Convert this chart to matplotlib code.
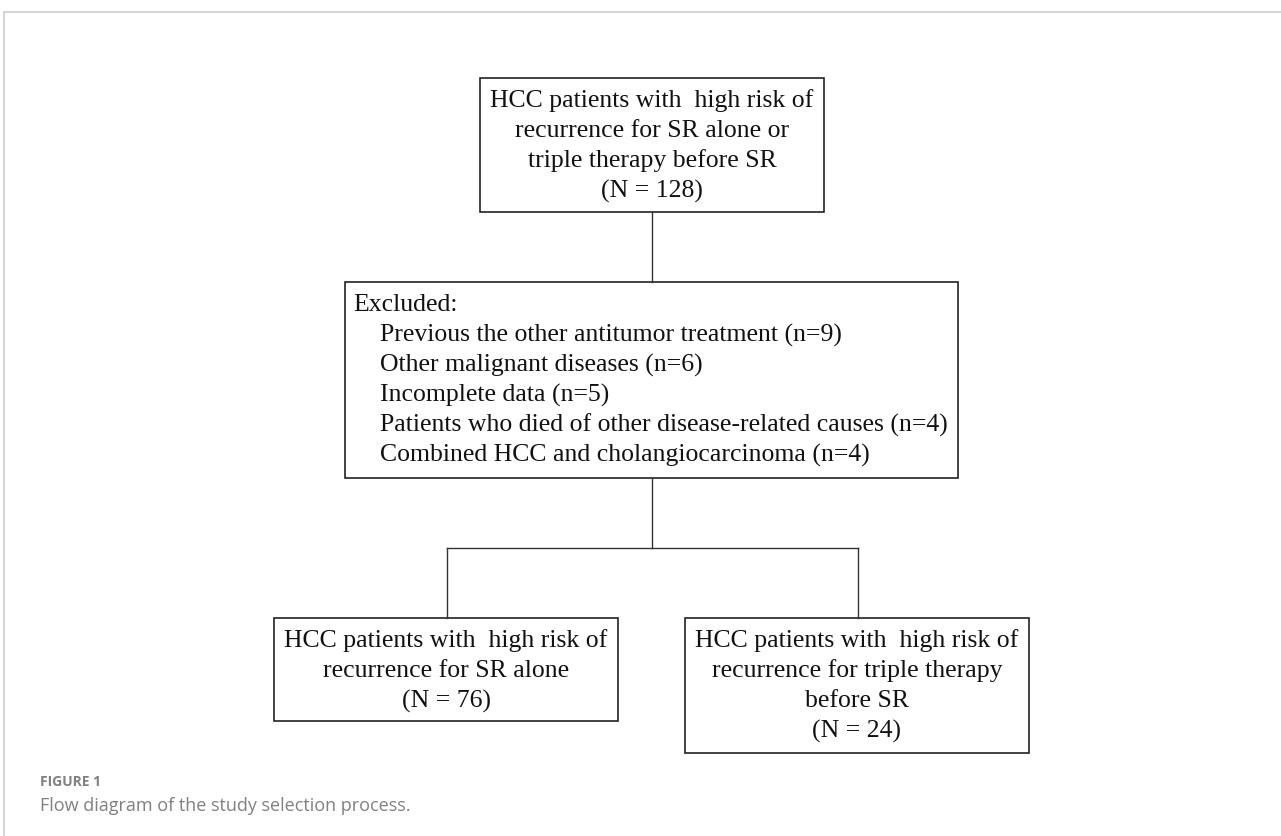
import matplotlib.pyplot as plt
from matplotlib.patches import Rectangle

# box texts
top_lines = ["HCC patients with  high risk of", "recurrence for SR alone or",
             "triple therapy before SR", "(N = 128)"]
excl_head = "Excluded:"
excl_items = ["Previous the other antitumor treatment (n=9)",
              "Other malignant diseases (n=6)",
              "Incomplete data (n=5)",
              "Patients who died of other disease-related causes (n=4)",
              "Combined HCC and cholangiocarcinoma (n=4)"]
left_lines = ["HCC patients with  high risk of", "recurrence for SR alone", "(N = 76)"]
right_lines = ["HCC patients with  high risk of", "recurrence for triple therapy",
               "before SR", "(N = 24)"]
caption_label = "FIGURE 1"
caption_text = "Flow diagram of the study selection process."

W, H = 1281, 836
fig = plt.figure(figsize=(W / 100, H / 100), dpi=100)
ax = fig.add_axes([0, 0, 1, 1])
ax.set_xlim(0, W)
ax.set_ylim(H, 0)
ax.axis('off')

serif = 'Liberation Serif'
fs = 18.5
lh = 30  # line spacing in px
lc = '#333333'

# page frame
ax.plot([4, W], [11.5, 11.5], color='#d0d0d0', lw=1.2)
ax.plot([4, 4], [11.5, H], color='#d0d0d0', lw=1.2)


def box(x0, y0, x1, y1):
    ax.add_patch(Rectangle((x0, y0), x1 - x0, y1 - y0, fill=False,
                           edgecolor='#222222', lw=1.2))


def centered(lines, cx, y_first):
    for i, s in enumerate(lines):
        ax.text(cx, y_first + i * lh, s, ha='center', va='center',
                family=serif, fontsize=fs, color='#111111')


# top box
box(480, 78, 824, 212)
centered(top_lines, 652, 101)

# connector
ax.plot([652, 652], [212, 282], color=lc, lw=1)

# excluded box
box(345, 282, 958, 478)
ax.text(353, 305, excl_head, ha='left', va='center', family=serif,
        fontsize=fs, color='#111111')
for i, s in enumerate(excl_items):
    ax.text(380, 335 + i * lh, s, ha='left', va='center', family=serif,
            fontsize=fs, color='#111111')

# split lines
ax.plot([652, 652], [478, 548], color=lc, lw=1)
ax.plot([447, 858], [548, 548], color=lc, lw=1)
ax.plot([447, 447], [548, 618], color=lc, lw=1)
ax.plot([858, 858], [548, 618], color=lc, lw=1)

# bottom boxes
box(274, 618, 618, 721)
centered(left_lines, 446, 641)
box(685, 618, 1029, 753)
centered(right_lines, 857, 641)

# caption
ax.text(40, 782, caption_label, ha='left', va='center', family='Open Sans',
        fontsize=10, fontweight='bold', color='#808080')
ax.text(40, 806, caption_text, ha='left', va='center', family='Open Sans',
        fontsize=13, color='#808080')

fig.savefig('out.png', dpi=100)
